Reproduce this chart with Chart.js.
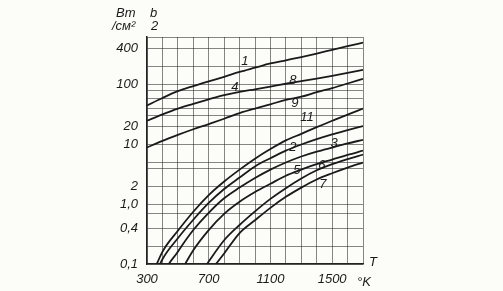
<!DOCTYPE html>
<html>
<head>
<meta charset="utf-8">
<script src="https://cdn.jsdelivr.net/npm/chart.js@4.4.1/dist/chart.umd.min.js"></script>
<style>
  html, body { margin: 0; padding: 0; background: #fcfcf8; }
  #wrap { width: 503px; height: 291px; }
</style>
</head>
<body>
<div id="wrap"><canvas id="chart" width="503" height="291"></canvas></div>
<script>
// temperature, K
const temps = [300, 400, 500, 600, 700, 800, 900, 1000, 1100, 1200, 1300, 1400, 1500, 1600, 1700];

// flux, W/cm2
const curve1 = [45, 60, 78, 95, 114, 136, 164, 193, 227, 257, 291, 333, 385, 443, 508];
const curve4 = [25, 32, 40, 48, 57, 67, 76, 84, 93, 104, 115, 127, 141, 158, 178];
const curve9 = [8.9, 11.5, 14.5, 18, 22, 27, 33.5, 40, 47, 56, 63, 75, 88, 105, 126];
const curve11 = [0.04, 0.16, 0.36, 0.75, 1.42, 2.4, 3.8, 5.8, 8.4, 11.7, 15.1, 19.5, 25, 31.6, 40];
const curve2 = [0.03, 0.12, 0.27, 0.55, 1.05, 1.8, 2.8, 4.3, 5.9, 7.9, 10, 12.3, 14.8, 17.4, 20.4];
const curve3 = [0.005, 0.06, 0.16, 0.37, 0.72, 1.26, 1.9, 2.75, 3.8, 5.0, 6.3, 7.6, 8.9, 10.4, 12.0];
const curve5 = [null, 0.02, 0.06, 0.17, 0.37, 0.69, 1.1, 1.6, 2.2, 3.0, 3.8, 4.7, 5.6, 6.7, 7.9];
const curve6 = [null, null, null, 0.045, 0.11, 0.25, 0.45, 0.76, 1.23, 1.86, 2.7, 3.7, 4.7, 5.7, 6.8];
const curve7 = [null, null, null, null, 0.07, 0.15, 0.33, 0.54, 0.87, 1.33, 1.9, 2.6, 3.3, 4.1, 5.0];

// axes
const yGridValues = [0.1, 0.2, 0.4, 0.7, 1, 2, 4, 5, 10, 20, 30, 40, 60, 80, 100, 200, 400, 630];
const yLabelValues = [0.1, 0.4, 1, 2, 10, 20, 100, 400];
const yLabelTexts = ["0,1", "0,4", "1,0", "2", "10", "20", "100", "400"];
const xLabelValues = [300, 700, 1100, 1500];

// curve numbers written on the plot
const markTexts = ["1", "4", "8", "9", "11", "2", "3", "5", "6", "7"];
const markTemps = [935, 870, 1246, 1259, 1337, 1246, 1512, 1272, 1434, 1440];
const markValues = [242, 92, 120, 49, 28, 8.8, 10.6, 3.75, 4.5, 2.19];

const curves = [curve1, curve4, curve9, curve11, curve2, curve3, curve5, curve6, curve7];
const gridColor = "rgba(35, 35, 35, 0.55)";
const inkColor = "#1a1a1a";
const handFont = "italic 13px 'Liberation Sans'";

const paper = {
  id: "paper",
  beforeDraw: (chart) => {
    const c = chart.ctx;
    c.save();
    c.fillStyle = "#fcfcf8";
    c.fillRect(0, 0, chart.width, chart.height);
    c.restore();
  },
};

const notes = {
  id: "notes",
  afterDatasetsDraw: (chart) => {
    const c = chart.ctx;
    const x = chart.scales.x;
    const y = chart.scales.y;
    const area = chart.chartArea;
    c.save();
    c.fillStyle = inkColor;
    c.font = "italic 13px 'Liberation Sans'";
    c.textAlign = "center";
    c.textBaseline = "middle";
    markTexts.forEach((t, i) => {
      c.fillText(t, x.getPixelForValue(markTemps[i]), y.getPixelForValue(markValues[i]));
    });

    c.font = handFont;
    c.textAlign = "left";
    c.fillText("°K", area.right - 6, area.bottom + 18);
    c.fillText("T", area.right + 6, area.bottom - 2);

    c.fillText("Вт", area.left - 31, area.top - 24);
    c.fillText("/см²", area.left - 35, area.top - 11);
    c.fillText("b", area.left + 3, area.top - 24);
    c.fillText("2", area.left + 4, area.top - 11);
    c.restore();
  },
};

const ctx = document.getElementById("chart");

new Chart(ctx, {
  type: "line",
  data: {
    datasets: curves.map((values) => ({
      data: temps.map((t, i) => ({ x: t, y: values[i] })),
      borderColor: inkColor,
      borderWidth: 1.8,
      pointRadius: 0,
      fill: false,
      spanGaps: false,
      cubicInterpolationMode: "monotone",
    })),
  },
  options: {
    responsive: false,
    animation: false,
    layout: { padding: { left: 107, right: 140, top: 37, bottom: 0 } },
    plugins: {
      legend: { display: false },
      tooltip: { enabled: false },
    },
    scales: {
      x: {
        type: "linear",
        min: 300,
        max: 1700,
        afterFit: (s) => {
          s.height = 27;
        },
        ticks: {
          stepSize: 100,
          autoSkip: false,
          maxRotation: 0,
          padding: 8,
          color: inkColor,
          font: { family: "Liberation Sans", style: "italic", size: 13 },
          callback: (v) => (xLabelValues.includes(v) ? String(v) : ""),
        },
        grid: { color: gridColor, lineWidth: 1, drawTicks: false },
        border: { display: true, color: "#222", width: 1.5 },
      },
      y: {
        type: "logarithmic",
        min: 0.1,
        max: 630,
        afterFit: (s) => {
          s.width = 40;
        },
        afterBuildTicks: (s) => {
          s.ticks = yGridValues.map((v) => ({ value: v }));
        },
        ticks: {
          autoSkip: false,
          padding: 9,
          color: inkColor,
          font: { family: "Liberation Sans", style: "italic", size: 13 },
          callback: (v) => {
            const i = yLabelValues.indexOf(v);
            return i >= 0 ? yLabelTexts[i] : "";
          },
        },
        grid: { color: gridColor, lineWidth: 1, drawTicks: false },
        border: { display: true, color: "#222", width: 1.5 },
      },
    },
  },
  plugins: [paper, notes],
});
</script>
</body>
</html>
